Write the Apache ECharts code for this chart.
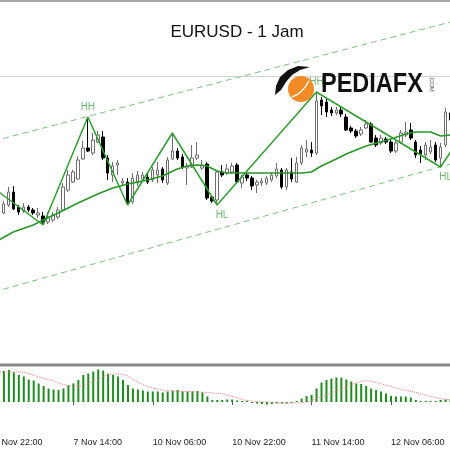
<!DOCTYPE html>
<html>
<head>
<meta charset="utf-8">
<title>EURUSD - 1 Jam</title>
<script src="https://cdn.jsdelivr.net/npm/echarts@6/dist/echarts.min.js"></script>
<style>
  html, body { margin: 0; padding: 0; background: #fff; overflow: hidden; width: 450px; height: 450px; }
  /* kanvas sedikit lebih lebar supaya bar pertama & terakhir terpotong seperti di MT4 */
  #chart { width: 462px; height: 450px; margin-left: -9px; }
</style>
</head>
<body>
<div id="chart"></div>
<script>
// bar H1, mulai 6 Nov 22:00 (akhir pekan dilewati)
const days = ['6 Nov', '7 Nov', '10 Nov', '11 Nov', '12 Nov'];
const firstHour = 22;
const barCount = 93;
const tickLabels = ['6 Nov 22:00', '7 Nov 14:00', '10 Nov 06:00', '10 Nov 22:00', '11 Nov 14:00', '12 Nov 06:00'];

const opens = [
  1.1500, 1.1496, 1.1487, 1.1495, 1.1508, 1.1493, 1.1489, 1.1493, 1.1490, 1.1485,
  1.1484, 1.1478, 1.1480, 1.1483, 1.1490, 1.1510, 1.1518, 1.1521, 1.1541, 1.1552,
  1.1547, 1.1558, 1.1563, 1.1542, 1.1525, 1.1535, 1.1517, 1.1518, 1.1498, 1.1517,
  1.1521, 1.1523, 1.1520, 1.1525, 1.1531, 1.1517, 1.1541, 1.1549, 1.1543, 1.1532,
  1.1533, 1.1542, 1.1532, 1.1536, 1.1503, 1.1500, 1.1528, 1.1527, 1.1528, 1.1535,
  1.1517, 1.1525, 1.1522, 1.1515, 1.1517, 1.1517, 1.1520, 1.1524, 1.1530, 1.1513,
  1.1528, 1.1518, 1.1537, 1.1548, 1.1550, 1.1547, 1.1600, 1.1598, 1.1590, 1.1587,
  1.1590, 1.1583, 1.1572, 1.1569, 1.1566, 1.1572, 1.1576, 1.1562, 1.1557, 1.1561,
  1.1558, 1.1549, 1.1558, 1.1565, 1.1570, 1.1558, 1.1550, 1.1545, 1.1548, 1.1555,
  1.1542, 1.1555, 1.1587
];
const closes = [
  1.1496, 1.1488, 1.1496, 1.1508, 1.1491, 1.1488, 1.1493, 1.1490, 1.1487, 1.1487,
  1.1478, 1.1483, 1.1485, 1.1490, 1.1513, 1.1525, 1.1528, 1.1540, 1.1552, 1.1549,
  1.1560, 1.1565, 1.1542, 1.1527, 1.1534, 1.1537, 1.1519, 1.1497, 1.1522, 1.1525,
  1.1525, 1.1518, 1.1530, 1.1530, 1.1520, 1.1540, 1.1549, 1.1542, 1.1533, 1.1534,
  1.1542, 1.1545, 1.1535, 1.1502, 1.1499, 1.1528, 1.1525, 1.1531, 1.1534, 1.1518,
  1.1523, 1.1522, 1.1514, 1.1518, 1.1519, 1.1522, 1.1525, 1.1531, 1.1513, 1.1530,
  1.1521, 1.1537, 1.1552, 1.1551, 1.1547, 1.1599, 1.1594, 1.1588, 1.1587, 1.1590,
  1.1586, 1.1570, 1.1569, 1.1564, 1.1570, 1.1576, 1.1558, 1.1555, 1.1562, 1.1558,
  1.1549, 1.1557, 1.1567, 1.1568, 1.1562, 1.1545, 1.1546, 1.1555, 1.1553, 1.1540,
  1.1553, 1.1588, 1.1580
];
const lows = [
  1.1493, 1.1486, 1.1486, 1.1493, 1.1490, 1.1485, 1.1487, 1.1488, 1.1485, 1.1482,
  1.1475, 1.1476, 1.1478, 1.1481, 1.1489, 1.1508, 1.1517, 1.1520, 1.1540, 1.1548,
  1.1545, 1.1557, 1.1540, 1.1520, 1.1518, 1.1525, 1.1514, 1.1495, 1.1496, 1.1514,
  1.1519, 1.1516, 1.1518, 1.1517, 1.1517, 1.1515, 1.1540, 1.1540, 1.1531, 1.1515,
  1.1532, 1.1540, 1.1530, 1.1500, 1.1497, 1.1495, 1.1523, 1.1525, 1.1526, 1.1516,
  1.1512, 1.1519, 1.1510, 1.1507, 1.1514, 1.1515, 1.1518, 1.1522, 1.1511, 1.1510,
  1.1518, 1.1517, 1.1535, 1.1543, 1.1543, 1.1545, 1.1585, 1.1583, 1.1584, 1.1585,
  1.1583, 1.1569, 1.1567, 1.1562, 1.1564, 1.1571, 1.1557, 1.1553, 1.1555, 1.1556,
  1.1547, 1.1547, 1.1556, 1.1563, 1.1560, 1.1542, 1.1537, 1.1540, 1.1546, 1.1538,
  1.1533, 1.1553, 1.1578
];
const highs = [
  1.1504, 1.1497, 1.1499, 1.1513, 1.1514, 1.1495, 1.1497, 1.1495, 1.1492, 1.1492,
  1.1488, 1.1488, 1.1488, 1.1493, 1.1517, 1.1530, 1.1530, 1.1544, 1.1559, 1.1583,
  1.1567, 1.1569, 1.1569, 1.1545, 1.1538, 1.1540, 1.1522, 1.1522, 1.1527, 1.1529,
  1.1528, 1.1526, 1.1533, 1.1538, 1.1533, 1.1543, 1.1567, 1.1552, 1.1546, 1.1537,
  1.1555, 1.1558, 1.1540, 1.1538, 1.1505, 1.1530, 1.1535, 1.1536, 1.1537, 1.1537,
  1.1525, 1.1527, 1.1524, 1.1520, 1.1522, 1.1524, 1.1527, 1.1537, 1.1532, 1.1532,
  1.1542, 1.1543, 1.1555, 1.1560, 1.1558, 1.1608, 1.1603, 1.1601, 1.1593, 1.1593,
  1.1593, 1.1586, 1.1574, 1.1571, 1.1573, 1.1580, 1.1578, 1.1565, 1.1565, 1.1563,
  1.1561, 1.1559, 1.1570, 1.1578, 1.1577, 1.1560, 1.1554, 1.1558, 1.1560, 1.1558,
  1.1557, 1.1592, 1.1590
];

// moving average (titik yang dibaca dari gambar)
const maIdx = [0, 4, 8, 10, 13, 17, 21, 24, 27, 31, 34, 37, 39, 41, 43, 45, 47, 62, 64, 66, 69, 71, 75, 80, 83, 85, 88, 90, 92];
const maVal = [1.1457, 1.1468, 1.1475, 1.1480, 1.1487, 1.1497, 1.1506, 1.1512, 1.1516, 1.1520, 1.1524, 1.1531, 1.1534, 1.1535, 1.1534, 1.1529, 1.1527, 1.1527, 1.1528, 1.1534, 1.1541, 1.1546, 1.1554, 1.1561, 1.1566, 1.1568, 1.1568, 1.1564, 1.1565];

// zigzag swing
const zzIdx = [0, 10, 19, 27, 36, 45, 65, 90, 92];
const zzVal = [1.1512, 1.1475, 1.1583, 1.1495, 1.1567, 1.1495, 1.1608, 1.1533, 1.1548];

const swingIdx = [19, 45, 65, 90];
const swingVal = [1.1583, 1.1495, 1.1608, 1.1533];
const swingText = ['HH', 'HL', 'HH', 'HL'];

// garis channel
const chanIdx = [0, 92];
const chanUpper = [1.1559, 1.1678];
const chanLower = [1.1408, 1.1536];

// MACD
const macd = [
  0.00060, 0.00062, 0.00062, 0.00064, 0.00059, 0.00054, 0.00051, 0.00045, 0.00043, 0.00037,
  0.00032, 0.00027, 0.00025, 0.00024, 0.00027, 0.00034, 0.00037, 0.00044, 0.00054, 0.00057,
  0.00061, 0.00065, 0.00063, 0.00057, 0.00054, 0.00051, 0.00044, 0.00034, 0.00027, 0.00025,
  0.00023, 0.00021, 0.00021, 0.00021, 0.00019, 0.00021, 0.00023, 0.00024, 0.00021, 0.00021,
  0.00021, 0.00022, 0.00019, 0.00011, 0.00004, 0.00004, 0.00004, 0.00005, 0.00005, 0.00003,
  0.00001, 0.00001, -0.00001, -0.00003, -0.00004, -0.00005, -0.00004, -0.00003, -0.00003, -0.00003,
  -0.00001, 0.00002, 0.00007, 0.00012, 0.00014, 0.00027, 0.00039, 0.00044, 0.00047, 0.00049,
  0.00049, 0.00045, 0.00041, 0.00037, 0.00036, 0.00032, 0.00027, 0.00024, 0.00021, 0.00017,
  0.00012, 0.00011, 0.00011, 0.00011, 0.00009, 0.00004, 0.00002, 0.00002, 0.00001, 0.00001,
  0.00004, 0.00005, 0.00006
];
const sigIdx = [0, 4, 7, 9, 12, 14, 17, 19, 21, 23, 25, 26, 29, 31, 34, 36, 41, 44, 46, 49, 51, 55, 60, 63, 65, 68, 71, 73, 75, 77, 81, 85, 89, 92];
const sigVal = [0.00060, 0.00060, 0.00057, 0.00050, 0.00042, 0.00035, 0.00032, 0.00038, 0.00046, 0.00054, 0.00056, 0.00055, 0.00040, 0.00031, 0.00024, 0.00022, 0.00020, 0.00018, 0.00016, 0.00008, 0.00003, 0.00000, -0.00002, 0.00000, 0.00007, 0.00018, 0.00030, 0.00038, 0.00042, 0.00039, 0.00028, 0.00019, 0.00009, 0.00004];

const categories = [];
let d = 0, h = firstHour;
for (let i = 0; i < barCount; i++) {
  categories.push(days[d] + ' ' + String(h).padStart(2, '0') + ':00');
  h++;
  if (h === 24) { h = 0; d++; }
}

const pairs = (idx, vals) => idx.map((k, i) => [k, vals[i]]);
const showTick = (i, v) => tickLabels.includes(v);

const chart = echarts.init(document.getElementById('chart'));

const swingLabel = {
  HH: { position: 'top', distance: 4, offset: [0, 0] },
  HL: { position: 'bottom', distance: 5, offset: [5, 0] }
};

chart.setOption({
  animation: false,
  backgroundColor: '#ffffff',
  grid: [
    // panel harga: channel atas boleh keluar di atas garis 76px
    { left: 0, right: 0, top: 0, height: 365 },
    { left: 0, right: 0, top: 367, height: 66 }
  ],
  xAxis: [
    { type: 'category', data: categories, gridIndex: 0, show: false },
    {
      type: 'category',
      data: categories,
      gridIndex: 1,
      axisLine: { show: false },
      axisTick: { show: true, interval: showTick, alignWithLabel: true, length: 3, lineStyle: { color: '#555' } },
      axisLabel: {
        interval: showTick,
        align: 'left',
        margin: 5,
        fontSize: 9,
        fontFamily: 'Liberation Sans',
        color: '#222'
      },
      splitLine: { show: false }
    }
  ],
  yAxis: [
    { type: 'value', gridIndex: 0, min: 1.1335, max: 1.1700, show: false, splitLine: { show: false } },
    { type: 'value', gridIndex: 1, min: -0.00062, max: 0.0007, show: false, splitLine: { show: false } }
  ],
  series: [
    {
      name: 'Upper',
      type: 'line',
      data: pairs(chanIdx, chanUpper),
      showSymbol: false,
      lineStyle: { color: '#7cc47c', width: 1, type: [6, 4] },
      z: 1
    },
    {
      name: 'Lower',
      type: 'line',
      data: pairs(chanIdx, chanLower),
      showSymbol: false,
      lineStyle: { color: '#7cc47c', width: 1, type: [6, 4] },
      z: 1
    },
    {
      name: 'EURUSD',
      type: 'candlestick',
      data: opens.map((o, i) => [o, closes[i], lows[i], highs[i]]),
      barWidth: 3,
      itemStyle: {
        color: '#ffffff',
        color0: '#000000',
        borderColor: '#6e6e6e',
        borderColor0: '#000000',
        borderWidth: 1
      },
      z: 2
    },
    {
      name: 'MA',
      type: 'line',
      data: pairs(maIdx, maVal),
      showSymbol: false,
      lineStyle: { color: '#279527', width: 1.5 },
      z: 3
    },
    {
      name: 'ZigZag',
      type: 'line',
      data: pairs(zzIdx, zzVal),
      showSymbol: false,
      lineStyle: { color: '#2f9d2f', width: 1.5 },
      z: 4
    },
    {
      name: 'Swing',
      type: 'scatter',
      symbolSize: 1,
      itemStyle: { color: 'transparent' },
      data: swingIdx.map((k, i) => ({
        value: [k, swingVal[i]],
        label: {
          show: true,
          formatter: swingText[i],
          color: '#4aa64a',
          fontSize: 10,
          fontFamily: 'Liberation Sans',
          ...swingLabel[swingText[i]]
        }
      })),
      z: 5
    },
    {
      name: 'MACD',
      type: 'bar',
      xAxisIndex: 1,
      yAxisIndex: 1,
      data: macd,
      barWidth: 2,
      barMinHeight: 1,
      itemStyle: { color: '#1f8c1f' }
    },
    {
      name: 'Signal',
      type: 'line',
      xAxisIndex: 1,
      yAxisIndex: 1,
      data: pairs(sigIdx, sigVal),
      showSymbol: false,
      smooth: true,
      lineStyle: { color: '#f07a7a', width: 1, type: 'dotted' }
    }
  ],
  graphic: [
    {
      // koordinat halaman (kanvas digeser 9px ke kiri)
      type: 'group',
      x: 9,
      children: [
        { type: 'line', z: 100, shape: { x1: 0, y1: 1, x2: 450, y2: 1 }, style: { stroke: '#8a8a8a', lineWidth: 1.5 } },
        { type: 'line', z: 0, shape: { x1: 0, y1: 76.5, x2: 450, y2: 76.5 }, style: { stroke: '#d2d2d2', lineWidth: 1 } },
        { type: 'line', z: 100, shape: { x1: 0, y1: 365, x2: 450, y2: 365 }, style: { stroke: '#878787', lineWidth: 3 } },
        {
          type: 'text', z: 100, x: 237, y: 32,
          style: { text: 'EURUSD - 1 Jam', font: '17px "Liberation Sans"', fill: '#111', align: 'center', verticalAlign: 'middle' }
        },
        // logo
        {
          type: 'polygon', z: 100,
          shape: { points: [[275, 95], [276, 86], [280, 77], [288, 70], [298, 66], [310, 67], [300, 70], [292, 75], [286, 82], [281, 90]] },
          style: { fill: '#111' }
        },
        { type: 'circle', z: 100, shape: { cx: 301, cy: 89, r: 13 }, style: { fill: '#f28a26' } },
        {
          type: 'bezierCurve', z: 101,
          shape: { x1: 292, y1: 97, cpx1: 302, cpy1: 94, x2: 309, y2: 81 },
          style: { stroke: '#ffffff', lineWidth: 1.5, fill: null }
        },
        {
          type: 'text', z: 100, x: 321, y: 85, scaleX: 0.87,
          style: { text: 'PEDIAFX', font: 'bold 27px "Liberation Sans"', fill: '#111', align: 'left', verticalAlign: 'middle' }
        },
        {
          type: 'text', z: 100, x: 432, y: 84, rotation: -Math.PI / 2,
          style: { text: '.COM', font: '6px "Liberation Sans"', fill: '#555', align: 'center', verticalAlign: 'middle' }
        }
      ]
    }
  ]
});
</script>
</body>
</html>
